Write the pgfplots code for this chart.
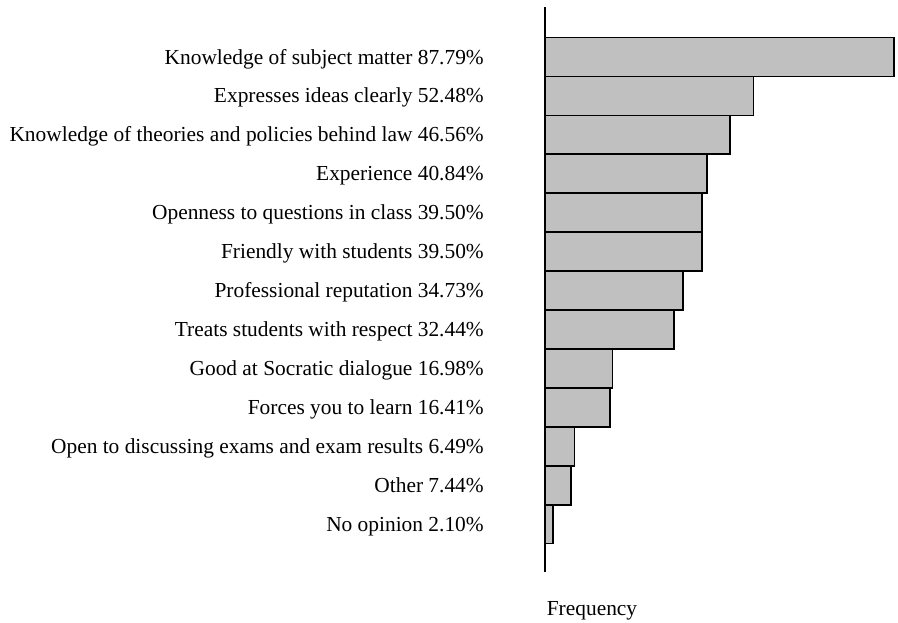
\documentclass[border=0pt]{standalone}
\usepackage{fontspec}
\setmainfont{Liberation Serif}
\usepackage{pgfplots}
\pgfplotsset{compat=1.18}
\definecolor{barfill}{HTML}{C0C0C0}
\begin{document}
\begin{tikzpicture}[font=\fontsize{21.4}{25}\selectfont]
\useasboundingbox (-545pt,-50pt) rectangle (353pt,572pt);
\begin{axis}[
  at={(0pt,0pt)}, anchor=south west,
  scale only axis,
  width=349pt, height=565pt,
  xmin=0, xmax=87.79,
  ymin=-1.23, ymax=13.285,
  axis x line=none,
  axis y line*=left,
  axis line style={line width=1.7pt},
  major tick length=0pt,
  ytick={0,1,2,3,4,5,6,7,8,9,10,11,12},
  yticklabels={
    No opinion 2.10\%,
    Other 7.44\%,
    Open to discussing exams and exam results 6.49\%,
    Forces you to learn 16.41\%,
    Good at Socratic dialogue 16.98\%,
    Treats students with respect 32.44\%,
    Professional reputation 34.73\%,
    Friendly with students 39.50\%,
    Openness to questions in class 39.50\%,
    Experience 40.84\%,
    Knowledge of theories and policies behind law 46.56\%,
    Expresses ideas clearly 52.48\%,
    Knowledge of subject matter 87.79\%},
  yticklabel style={anchor=base east, inner sep=0pt, xshift=-61pt, yshift=-7pt},
  xbar, bar width=1,
  clip=false,
]
\addplot[fill=barfill, draw=black, line width=1.7pt] coordinates {
  (2.10,0) (6.49,1) (7.44,2) (16.41,3) (16.98,4) (32.44,5) (34.73,6)
  (39.50,7) (39.50,8) (40.84,9) (46.56,10) (52.48,11) (87.79,12)
};
\node at ([xshift=47pt,yshift=-39pt]axis description cs:0,0) {Frequency};
\end{axis}
\end{tikzpicture}
\end{document}
